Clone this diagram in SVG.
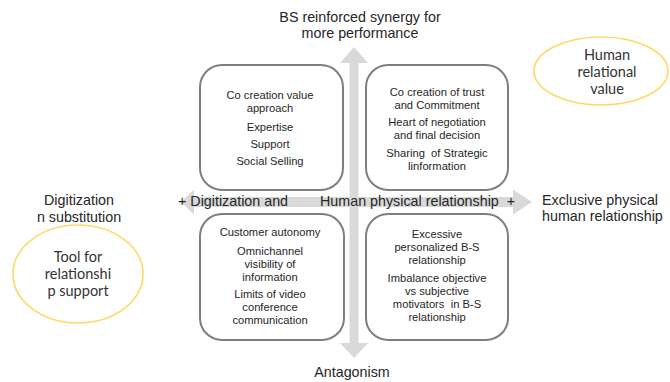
<svg xmlns="http://www.w3.org/2000/svg" width="670" height="382" viewBox="0 0 670 382">
<style>
.box{fill:#ffffff;stroke:#7f7f7f;stroke-width:2}
.bt{font-family:"Liberation Sans",Arial,sans-serif;font-size:11.2px;fill:#262626;text-anchor:middle}
.ax{font-family:"Liberation Sans",Arial,sans-serif;font-size:14.3px;fill:#262626}
.el{fill:#ffffff;stroke:#ffd966;stroke-width:1.6}
.et{font-family:Lato,"Noto Sans",sans-serif;font-size:14.5px;fill:#333333;text-anchor:middle}
.arr{fill:#d9d9d9}
</style>
<rect width="670" height="382" fill="#ffffff"/>
<g id="connectors">
<path class="arr" d="M354,47 L368,63 L358.5,63 L358.5,343 L368,343 L354,358 L340,343 L349.5,343 L349.5,63 L340,63 Z"/>
<path class="arr" d="M181,202 L194,189.5 L194,197 L513,197 L513,189.5 L532,202 L513,214.5 L513,207 L194,207 L194,214.5 Z"/>
</g>
<g id="box-top-left">
<rect class="box" x="200" y="65" width="143" height="125" rx="22"/>
<text class="bt"><tspan x="270" y="99">Co creation value</tspan><tspan x="270" y="112">approach</tspan><tspan x="270" y="131">Expertise</tspan><tspan x="270" y="148">Support</tspan><tspan x="270" y="165">Social Selling</tspan></text>
</g>
<g id="box-top-right">
<rect class="box" x="366" y="65" width="142" height="125" rx="22"/>
<text class="bt" xml:space="preserve"><tspan x="437" y="96">Co creation of trust</tspan><tspan x="437" y="109">and Commitment</tspan><tspan x="437" y="126">Heart of negotiation</tspan><tspan x="437" y="139">and final decision</tspan><tspan x="437" y="157">Sharing  of Strategic</tspan><tspan x="437" y="170">linformation</tspan></text>
</g>
<g id="box-bottom-left">
<rect class="box" x="200" y="214" width="144" height="126" rx="22"/>
<text class="bt"><tspan x="270" y="236">Customer autonomy</tspan><tspan x="270" y="255">Omnichannel</tspan><tspan x="270" y="268">visibility of</tspan><tspan x="270" y="281">information</tspan><tspan x="270" y="298">Limits of video</tspan><tspan x="270" y="311">conference</tspan><tspan x="270" y="324">communication</tspan></text>
</g>
<g id="box-bottom-right">
<rect class="box" x="366" y="214" width="142" height="126" rx="22"/>
<text class="bt" xml:space="preserve"><tspan x="437" y="238">Excessive</tspan><tspan x="437" y="251">personalized B-S</tspan><tspan x="437" y="264">relationship</tspan><tspan x="437" y="282">Imbalance objective</tspan><tspan x="437" y="295">vs subjective</tspan><tspan x="437" y="308">motivators  in B-S</tspan><tspan x="437" y="321">relationship</tspan></text>
</g>
<g id="axis-top">
<text class="ax" text-anchor="middle"><tspan x="360" y="22">BS reinforced synergy for</tspan><tspan x="360" y="38">more performance</tspan></text>
</g>
<g id="axis-bottom">
<text class="ax" text-anchor="middle" x="352" y="377">Antagonism</text>
</g>
<g id="axis-left">
<text class="ax" text-anchor="middle"><tspan x="79" y="205">Digitization</tspan><tspan x="79" y="222">n substitution</tspan></text>
</g>
<g id="axis-right">
<text class="ax"><tspan x="542" y="205">Exclusive physical</tspan><tspan x="542" y="221">human relationship</tspan></text>
</g>
<g id="axis-mid-left">
<text class="ax" x="178" y="206">+ Digitization and</text>
</g>
<g id="axis-mid-right">
<text class="ax" x="320" y="206" xml:space="preserve">Human physical relationship  +</text>
</g>
<g id="ellipse-left">
<ellipse class="el" cx="78" cy="274" rx="65" ry="49"/>
<text class="et"><tspan x="78" y="262">Tool for</tspan><tspan x="78" y="279">relationshi</tspan><tspan x="78" y="296">p support</tspan></text>
</g>
<g id="ellipse-right">
<ellipse class="el" cx="601" cy="71" rx="67" ry="34"/>
<text class="et"><tspan x="607" y="60">Human</tspan><tspan x="607" y="77">relational</tspan><tspan x="607" y="94">value</tspan></text>
</g>
</svg>
